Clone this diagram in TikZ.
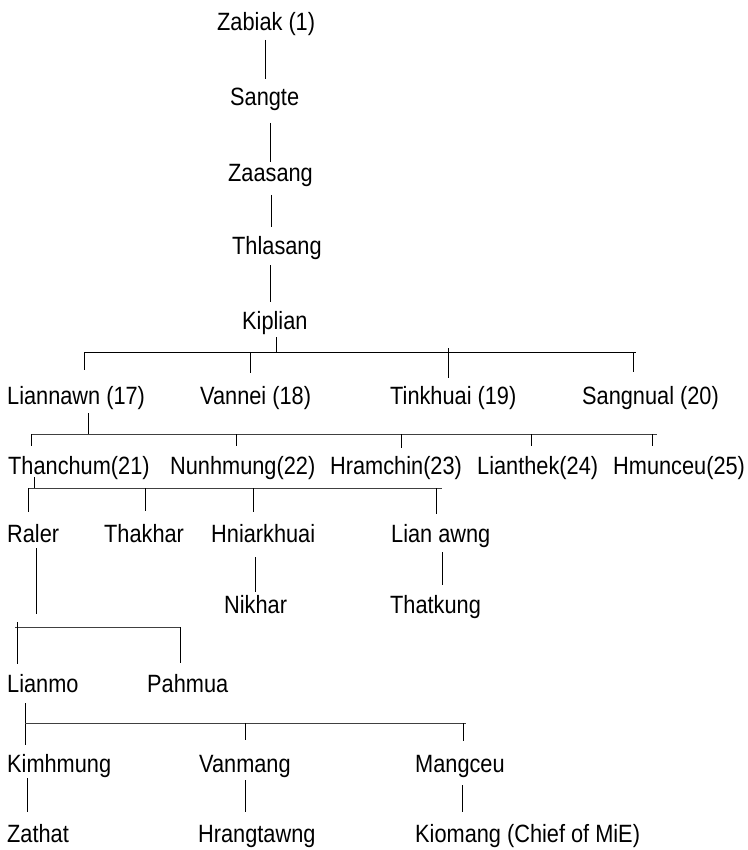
\documentclass[tikz,border=0pt]{standalone}
\usepackage{fontspec}
\setmainfont[FakeStretch=0.87]{Liberation Sans}
\begin{document}
\begin{tikzpicture}[x=1pt,y=-1pt,
  person/.style={anchor=base west,inner sep=0pt,font=\fontsize{25}{30}\selectfont},
  link/.style={line width=0.8pt,black},
  bar/.style={line width=0.8pt,black!75}]
\useasboundingbox (0,0) rectangle (747,850);
% names
\node[person] (zabiak) at (217,31) {Zabiak (1)};
\node[person] (sangte) at (230,106) {Sangte};
\node[person] (zaasang) at (228,182) {Zaasang};
\node[person] (thlasang) at (232,254) {Thlasang};
\node[person] (kiplian) at (242,329) {Kiplian};
\node[person] (liannawn) at (7,404) {Liannawn (17)};
\node[person] (vannei) at (200,404) {Vannei (18)};
\node[person] (tinkhuai) at (390,404) {Tinkhuai (19)};
\node[person] (sangnual) at (582,404) {Sangnual (20)};
\node[person] (thanchum) at (8,474) {Thanchum(21)};
\node[person] (nunhmung) at (170,474) {Nunhmung(22)};
\node[person] (hramchin) at (330,474) {Hramchin(23)};
\node[person] (lianthek) at (477,474) {Lianthek(24)};
\node[person] (hmunceu) at (613,474) {Hmunceu(25)};
\node[person] (raler) at (7,542) {Raler};
\node[person] (thakhar) at (104,542) {Thakhar};
\node[person] (hniarkhuai) at (211,542) {Hniarkhuai};
\node[person] (lianawng) at (391,542) {Lian awng};
\node[person] (nikhar) at (224,613) {Nikhar};
\node[person] (thatkung) at (390,613) {Thatkung};
\node[person] (lianmo) at (7,692) {Lianmo};
\node[person] (pahmua) at (147,692) {Pahmua};
\node[person] (kimhmung) at (7,772) {Kimhmung};
\node[person] (vanmang) at (199,772) {Vanmang};
\node[person] (mangceu) at (415,772) {Mangceu};
\node[person] (zathat) at (7,842) {Zathat};
\node[person] (hrangtawng) at (198,842) {Hrangtawng};
\node[person] (kiomang) at (415,842) {Kiomang (Chief of MiE)};
% top chain
\coordinate (c1a) at (265,40);  \coordinate (c1b) at (265,79);
\coordinate (c2a) at (270,123); \coordinate (c2b) at (270,162);
\coordinate (c3a) at (271,195); \coordinate (c3b) at (271,227);
\coordinate (c4a) at (270,265); \coordinate (c4b) at (270,302);
\draw[link] (c1a) -- (c1b);
\draw[link] (c2a) -- (c2b);
\draw[link] (c3a) -- (c3b);
\draw[link] (c4a) -- (c4b);
% Kiplian children
\coordinate (k0) at (276,337); \coordinate (k1) at (276,352);
\coordinate (b1L) at (84,352); \coordinate (b1R) at (636,352);
\coordinate (t11) at (84,370); \coordinate (t12a) at (250,352); \coordinate (t12) at (250,373);
\coordinate (t13a) at (448,348); \coordinate (t13) at (448,378);
\coordinate (t14a) at (633,352); \coordinate (t14) at (633,372);
\draw[link] (k0) -- (k1);
\draw[link] (b1L) -- (b1R);
\draw[link] (b1L) -- (t11);
\draw[link] (t12a) -- (t12);
\draw[link] (t13a) -- (t13);
\draw[link] (t14a) -- (t14);
% Liannawn children
\coordinate (l0) at (88,413); \coordinate (l1) at (88,434);
\coordinate (b2L) at (31,434); \coordinate (b2R) at (657,434);
\coordinate (t21) at (31,446);
\coordinate (t22a) at (236,434); \coordinate (t22) at (236,446);
\coordinate (t23a) at (401,434); \coordinate (t23) at (401,448);
\coordinate (t24a) at (531,434); \coordinate (t24) at (531,446);
\coordinate (t25a) at (652,434); \coordinate (t25) at (652,446);
\draw[link] (l0) -- (l1);
\draw[bar] (b2L) -- (b2R);
\draw[link] (b2L) -- (t21);
\draw[link] (t22a) -- (t22);
\draw[link] (t23a) -- (t23);
\draw[link] (t24a) -- (t24);
\draw[link] (t25a) -- (t25);
% Thanchum children
\coordinate (h0) at (34,477); \coordinate (h1) at (34,488);
\coordinate (b3L) at (28,488); \coordinate (b3R) at (442,488);
\coordinate (t31) at (28,512);
\coordinate (t32a) at (145,488); \coordinate (t32) at (145,511);
\coordinate (t33a) at (253,488); \coordinate (t33) at (253,512);
\coordinate (t34a) at (436,488); \coordinate (t34) at (436,514);
\draw[link] (h0) -- (h1);
\draw[bar] (b3L) -- (b3R);
\draw[link] (b3L) -- (t31);
\draw[link] (t32a) -- (t32);
\draw[link] (t33a) -- (t33);
\draw[link] (t34a) -- (t34);
% Hniarkhuai -> Nikhar, Lian awng -> Thatkung
\coordinate (n0) at (255,557); \coordinate (n1) at (255,592);
\coordinate (a0) at (442,552); \coordinate (a1) at (442,585);
\draw[link] (n0) -- (n1);
\draw[link] (a0) -- (a1);
% Raler children
\coordinate (r0) at (36,548); \coordinate (r1) at (36,614);
\coordinate (b4L) at (15,627); \coordinate (b4R) at (180,627);
\coordinate (t41a) at (17,622); \coordinate (t41) at (17,664);
\coordinate (t42) at (180,663);
\draw[link] (r0) -- (r1);
\draw[bar] (b4L) -- (b4R);
\draw[link] (t41a) -- (t41);
\draw[link] (b4R) -- (t42);
% Lianmo children
\coordinate (m0) at (25,703); \coordinate (m1) at (25,745);
\coordinate (b5L) at (25,723); \coordinate (b5R) at (466,723);
\coordinate (t52a) at (245,723); \coordinate (t52) at (245,740);
\coordinate (t53a) at (463,723); \coordinate (t53) at (463,741);
\draw[link] (m0) -- (m1);
\draw[bar] (b5L) -- (b5R);
\draw[link] (t52a) -- (t52);
\draw[link] (t53a) -- (t53);
% last generation
\coordinate (z0) at (27,778); \coordinate (z1) at (27,812);
\coordinate (v0) at (245,780); \coordinate (v1) at (245,812);
\coordinate (g0) at (462,785); \coordinate (g1) at (462,812);
\draw[link] (z0) -- (z1);
\draw[link] (v0) -- (v1);
\draw[link] (g0) -- (g1);
\end{tikzpicture}
\end{document}
